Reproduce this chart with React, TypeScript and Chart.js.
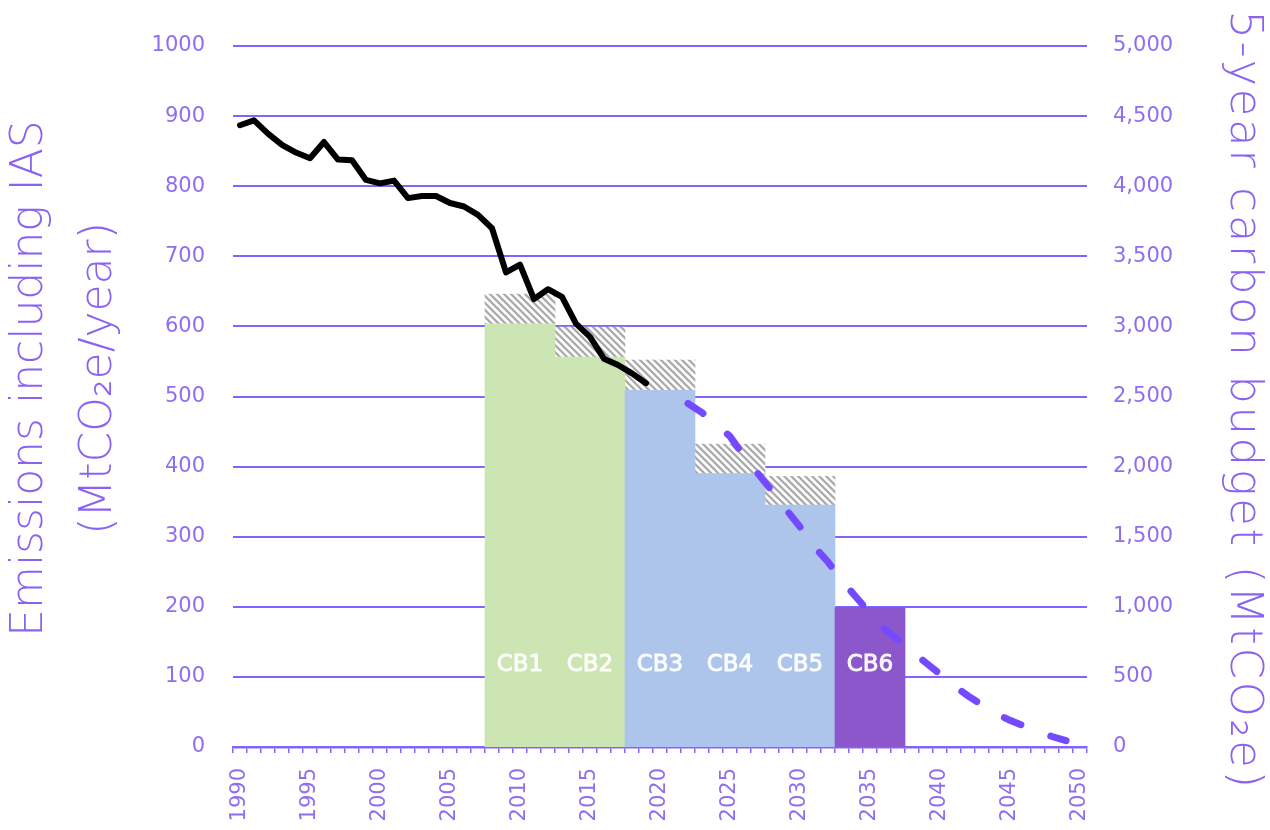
import React, { useEffect, useRef } from 'react';
import { Chart, registerables } from 'chart.js';

Chart.register(...registerables);

// ---------- data ----------
const years = [
  '1990', '1991', '1992', '1993', '1994', '1995', '1996', '1997', '1998', '1999',
  '2000', '2001', '2002', '2003', '2004', '2005', '2006', '2007', '2008', '2009',
  '2010', '2011', '2012', '2013', '2014', '2015', '2016', '2017', '2018', '2019',
  '2020', '2021', '2022', '2023', '2024', '2025', '2026', '2027', '2028', '2029',
  '2030', '2031', '2032', '2033', '2034', '2035', '2036', '2037', '2038', '2039',
  '2040', '2041', '2042', '2043', '2044', '2045', '2046', '2047', '2048', '2049',
  '2050',
];

// Historic emissions incl. IAS (MtCO2e/year), 1990..2019
const historicStartYear = 1990;
const historicEmissions = [
  887, 894, 875, 859, 848, 840, 863, 838, 837, 809,
  804, 808, 783, 786, 786, 776, 771, 759, 740, 677,
  688, 639, 653, 642, 604, 585, 554, 545, 533, 519,
];

// Pathway (dashed), 2022..2049
const pathwayStartYear = 2022;
const pathwayEmissions = [
  490, 477, 461, 443, 415, 390, 365, 339, 314, 286,
  264, 237, 214, 191, 169, 153, 136, 120, 104, 87,
  73, 60, 48, 38, 30, 22, 15, 9,
];

// Carbon budgets (5-year totals, MtCO2e)
const budgetNames = ['CB1', 'CB2', 'CB3', 'CB4', 'CB5', 'CB6'];
const budgetStartYears = [2008, 2013, 2018, 2023, 2028, 2033];
const budgetTotals = [3018, 2782, 2544, 1950, 1725, 995];
const iasAdditions = [212, 213, 216, 210, 205, 0];
const budgetColors = ['#cde5b2', '#cde5b2', '#adc5ea', '#adc5ea', '#adc5ea', '#8b57cb'];

const leftTitle = ['Emissions including IAS', '(MtCO\u2082e/year)'];
const rightTitle = '5-year carbon budget (MtCO\u2082e)';

// ---------- styles ----------
const FONT = '"DejaVu Sans", sans-serif';
const gridPurple = '#8163ff';
const tickPurple = '#8e6ef2';
const titlePurple = '#8a63f2';

function budgetIndexForYear(y: number): number {
  return budgetStartYears.findIndex((s) => y >= s && y < s + 5);
}

function makeHatch(): CanvasPattern | string {
  const n = 7;
  const c = document.createElement('canvas');
  c.width = n;
  c.height = n;
  const g = c.getContext('2d');
  if (!g) return '#cccccc';
  g.fillStyle = '#fbfbfb';
  g.fillRect(0, 0, n, n);
  g.strokeStyle = '#a8a8a8';
  g.lineWidth = 2.2;
  g.beginPath();
  for (const k of [-n, 0, n]) {
    g.moveTo(-1, -1 + k);
    g.lineTo(n + 1, n + 1 + k);
  }
  g.stroke();
  return g.createPattern(c, 'repeat') || '#cccccc';
}

const textPlugin = {
  id: 'customText',
  afterDatasetsDraw(chart: any) {
    const { ctx, scales } = chart;
    const x = scales.x;
    const y = scales.y;
    ctx.save();
    ctx.font = `23px ${FONT}`;
    ctx.fillStyle = 'rgba(255,255,255,0.92)';
    ctx.strokeStyle = 'rgba(255,255,255,0.92)';
    ctx.lineWidth = 0.9;
    ctx.textAlign = 'center';
    ctx.textBaseline = 'middle';
    budgetNames.forEach((name, i) => {
      const idx = years.indexOf(String(budgetStartYears[i] + 2));
      const px = x.getPixelForValue(idx);
      const py = y.getPixelForValue(117);
      ctx.fillText(name, px, py);
      ctx.strokeText(name, px, py);
    });
    ctx.restore();
  },
  afterDraw(chart: any) {
    const { ctx, chartArea, width } = chart;
    const midY = (chartArea.top + chartArea.bottom) / 2;
    ctx.save();
    ctx.fillStyle = titlePurple;
    ctx.textAlign = 'center';
    ctx.textBaseline = 'middle';
    ctx.font = `200 44px ${FONT}`;
    ctx.translate(31, midY - 18);
    ctx.rotate(-Math.PI / 2);
    ctx.fillText(leftTitle[0], 0, 0);
    ctx.fillText(leftTitle[1], 0, 69);
    ctx.restore();

    ctx.save();
    ctx.fillStyle = titlePurple;
    ctx.textAlign = 'center';
    ctx.textBaseline = 'middle';
    ctx.font = `200 45px ${FONT}`;
    try { (ctx as any).letterSpacing = '2.6px'; } catch (e) { /* ignore */ }
    ctx.translate(width - 27, midY + 4);
    ctx.rotate(Math.PI / 2);
    ctx.fillText(rightTitle, 0, 0);
    ctx.restore();
  },
};

export default function App() {
  const ref = useRef<HTMLCanvasElement | null>(null);

  useEffect(() => {
    if (!ref.current) return;
    const hatch = makeHatch();

    const historicData = years.map((y) => {
      const i = Number(y) - historicStartYear;
      return i >= 0 && i < historicEmissions.length ? historicEmissions[i] : null;
    });
    const pathwayData = years.map((y) => {
      const i = Number(y) - pathwayStartYear;
      return i >= 0 && i < pathwayEmissions.length ? pathwayEmissions[i] : null;
    });
    const budgetData = years.map((y) => {
      const i = budgetIndexForYear(Number(y));
      return i < 0 ? null : budgetTotals[i];
    });
    const budgetBarColors = years.map((y) => {
      const i = budgetIndexForYear(Number(y));
      return i < 0 ? 'rgba(0,0,0,0)' : budgetColors[i];
    });
    const iasData = years.map((y) => {
      const i = budgetIndexForYear(Number(y));
      return i < 0 || iasAdditions[i] === 0 ? null : iasAdditions[i];
    });

    const chart = new Chart(ref.current, {
      type: 'bar',
      data: {
        labels: years,
        datasets: [
          {
            type: 'line',
            label: 'Historic emissions',
            data: historicData,
            yAxisID: 'y',
            borderColor: '#000000',
            borderWidth: 6,
            pointRadius: 0,
            tension: 0,
            borderJoinStyle: 'round',
            borderCapStyle: 'round',
            order: 0,
          } as any,
          {
            type: 'line',
            label: 'Pathway',
            data: pathwayData,
            yAxisID: 'y',
            borderColor: '#7549ff',
            borderWidth: 7,
            borderDash: [18, 32],
            borderCapStyle: 'round',
            pointRadius: 0,
            tension: 0,
            order: 0,
          } as any,
          {
            type: 'bar',
            label: 'Carbon budget',
            data: budgetData,
            yAxisID: 'y1',
            backgroundColor: budgetBarColors,
            borderWidth: 0,
            barPercentage: 1,
            categoryPercentage: 1,
            stack: 'cb',
            order: 1,
          } as any,
          {
            type: 'bar',
            label: 'IAS',
            data: iasData,
            yAxisID: 'y1',
            backgroundColor: hatch,
            borderWidth: 0,
            barPercentage: 1,
            categoryPercentage: 1,
            stack: 'cb',
            order: 2,
          } as any,
        ],
      },
      options: {
        animation: false,
        responsive: true,
        maintainAspectRatio: false,
        layout: { padding: { top: 46, left: 0, right: 0, bottom: 0 } },
        plugins: {
          legend: { display: false },
          tooltip: { enabled: false },
        },
        scales: {
          x: {
            type: 'category',
            offset: true,
            stacked: true,
            grid: {
              offset: true,
              drawOnChartArea: false,
              drawTicks: true,
              tickLength: 6,
              color: gridPurple,
              lineWidth: 1.5,
            },
            border: { display: true, color: gridPurple, width: 2.5 },
            ticks: {
              autoSkip: false,
              maxRotation: 90,
              minRotation: 90,
              padding: 15,
              color: tickPurple,
              font: { family: FONT, size: 21 },
              callback: (_v: any, i: number) => (Number(years[i]) % 5 === 0 ? years[i] : ''),
            },
            afterFit: (s: any) => { s.height = 83; },
          },
          y: {
            position: 'left',
            min: 0,
            max: 1000,
            grid: { color: gridPurple, lineWidth: 2, drawTicks: false },
            border: { display: false },
            ticks: {
              stepSize: 100,
              padding: 28,
              color: tickPurple,
              font: { family: FONT, size: 21 },
              callback: (v: any) => String(v),
            },
            afterFit: (s: any) => { s.width = 233; },
          },
          y1: {
            position: 'right',
            min: 0,
            max: 5000,
            stacked: true,
            grid: { display: false, drawTicks: false },
            border: { display: false },
            ticks: {
              stepSize: 500,
              padding: 26,
              color: tickPurple,
              font: { family: FONT, size: 21 },
              callback: (v: any) => Number(v).toLocaleString('en-US'),
            },
            afterFit: (s: any) => { s.width = 183; },
          },
        },
      } as any,
      plugins: [textPlugin],
    });

    return () => chart.destroy();
  }, []);

  return (
    <div style={{ position: 'fixed', left: 0, top: 0, width: 1270, height: 830, background: '#ffffff' }}>
      <canvas ref={ref} />
    </div>
  );
}
